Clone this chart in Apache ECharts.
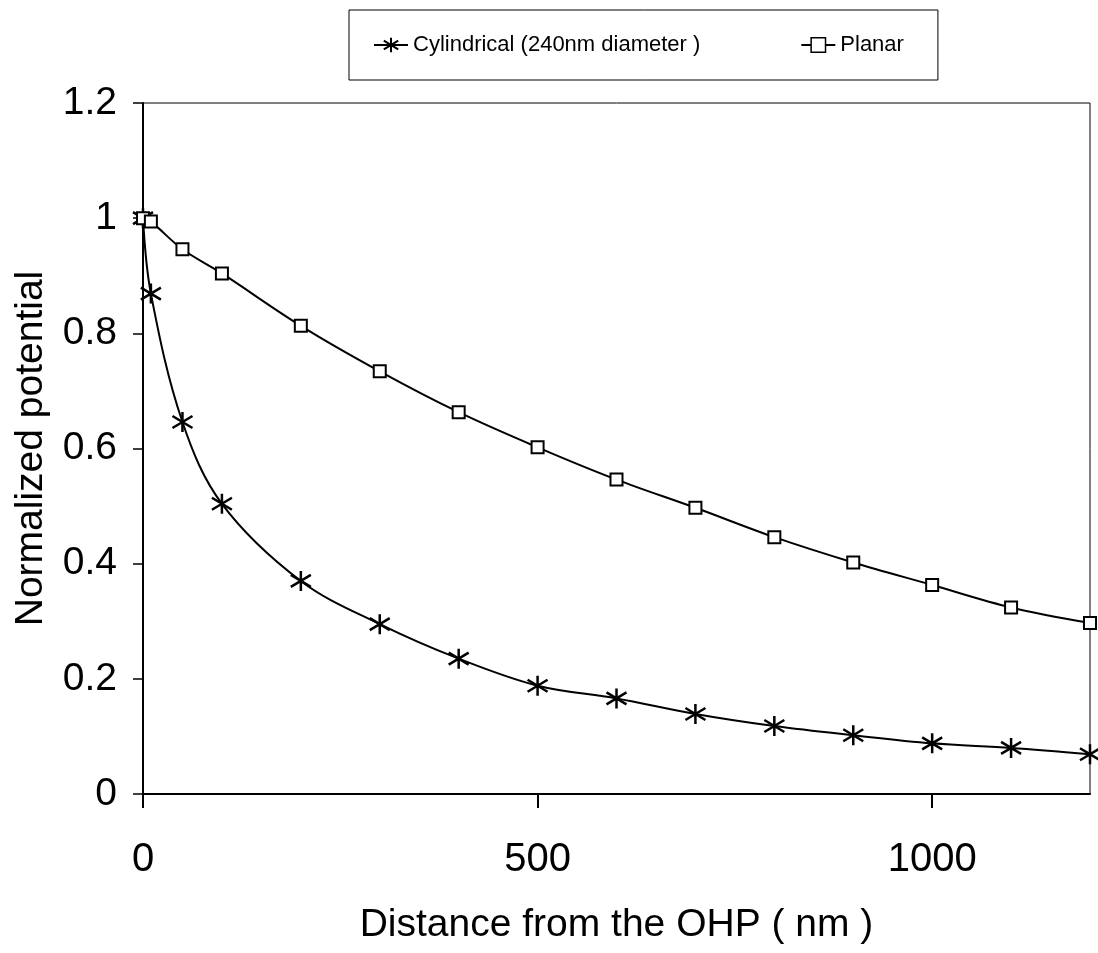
<!DOCTYPE html>
<html>
<head>
<meta charset="utf-8">
<script src="https://cdn.jsdelivr.net/npm/echarts@6/dist/echarts.min.js"></script>
<style>
html,body{margin:0;padding:0;background:#fff;}
#chart{width:1098px;height:953px;}
</style>
</head>
<body>
<div id="chart"></div>
<script>
const distances = [0, 10, 50, 100, 200, 300, 400, 500, 600, 700, 800, 900, 1000, 1100, 1200];
const cylindrical = [1.0, 0.869, 0.646, 0.504, 0.370, 0.295, 0.235, 0.188, 0.166, 0.139, 0.118, 0.102, 0.088, 0.080, 0.069];
const planar = [1.0, 0.994, 0.946, 0.904, 0.813, 0.734, 0.663, 0.602, 0.546, 0.497, 0.446, 0.402, 0.363, 0.324, 0.297];
const seriesNames = ['Cylindrical (240nm diameter )', 'Planar'];
const xTicks = [0, 500, 1000];

const FONT = "'Liberation Sans', Arial, sans-serif";
const asterisk = 'path://M10,0L10,20M1.5,4L18.5,16M1.5,16L18.5,4';

const chart = echarts.init(document.getElementById('chart'), null, {renderer: 'canvas'});
chart.setOption({
  animation: false,
  backgroundColor: '#fff',
  textStyle: {fontFamily: FONT, color: '#000'},
  grid: {left: 143, right: 8, top: 103, bottom: 159, show: true, borderColor: '#000', borderWidth: 1,
    containLabel: false, outerBoundsMode: 'none'},
  legend: {
    left: 349, top: 10,
    padding: [24, 34, 24, 24],
    borderColor: '#000', borderWidth: 1,
    itemWidth: 34, itemHeight: 18, itemGap: 100,
    textStyle: {fontFamily: FONT, fontSize: 22, color: '#000'},
    data: [
      {name: seriesNames[0], itemStyle: {borderWidth: 2}},
      {name: seriesNames[1], itemStyle: {borderWidth: 1.5}}
    ]
  },
  xAxis: {
    type: 'value', min: 0, max: 1200, interval: 500,
    name: 'Distance from the OHP ( nm )', nameLocation: 'middle', nameGap: 112,
    nameTextStyle: {fontFamily: FONT, fontSize: 39, color: '#000'},
    axisLine: {show: true, lineStyle: {color: '#000', width: 2}},
    axisTick: {show: true, inside: false, length: 14, lineStyle: {color: '#000', width: 2}, customValues: xTicks},
    axisLabel: {fontFamily: FONT, fontSize: 40, color: '#000', margin: 46, customValues: xTicks,
      formatter: v => String(v)},
    splitLine: {show: false}
  },
  yAxis: {
    type: 'value', min: 0, max: 1.2, interval: 0.2,
    name: 'Normalized potential', nameLocation: 'middle', nameGap: 92, nameRotate: 90,
    nameTextStyle: {fontFamily: FONT, fontSize: 39, color: '#000'},
    axisLine: {show: true, lineStyle: {color: '#000', width: 2}},
    axisTick: {show: true, inside: false, length: 10, lineStyle: {color: '#000', width: 1.5}},
    axisLabel: {fontFamily: FONT, fontSize: 39, color: '#000', margin: 26,
      formatter: v => String(Math.round(v * 10) / 10)},
    splitLine: {show: false}
  },
  series: [
    {
      name: seriesNames[0], type: 'line', smooth: 0.35, clip: false,
      data: distances.map((d, i) => [d, cylindrical[i]]),
      symbol: asterisk, symbolSize: 20, showAllSymbol: true,
      lineStyle: {color: '#000', width: 2},
      itemStyle: {color: '#000', borderColor: '#000', borderWidth: 2.5},
      z: 3
    },
    {
      name: seriesNames[1], type: 'line', smooth: 0.35, clip: false,
      data: distances.map((d, i) => [d, planar[i]]),
      symbol: 'rect', symbolSize: 12, showAllSymbol: true,
      lineStyle: {color: '#000', width: 2},
      itemStyle: {color: '#fff', borderColor: '#000', borderWidth: 2},
      z: 4
    }
  ]
});
</script>
</body>
</html>
